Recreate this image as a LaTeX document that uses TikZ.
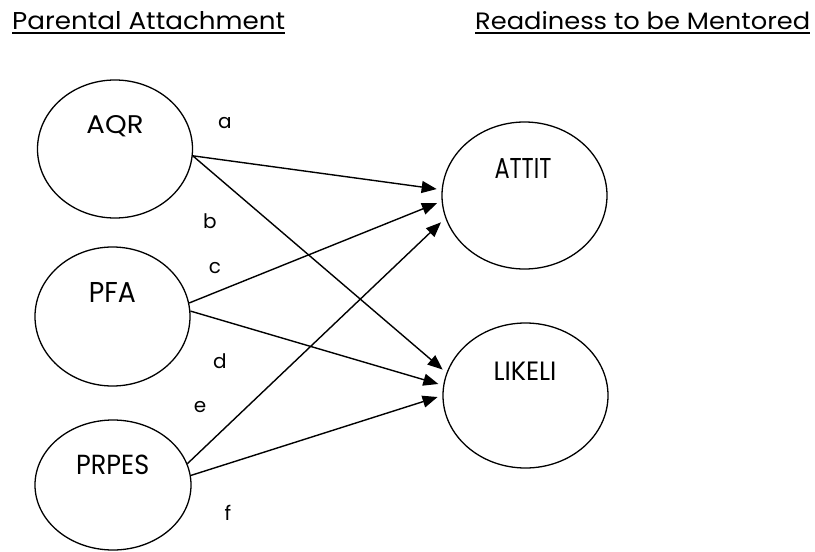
\documentclass[tikz,border=0pt]{standalone}
\usepackage{fontspec}
\setmainfont{Poppins}
\usetikzlibrary{shapes.geometric,arrows.meta}
\tikzset{
  ell/.style={draw, ellipse, line width=1.3pt, inner sep=0pt},
  lbl/.style={anchor=base, inner sep=0pt},
  coef/.style={anchor=base, inner sep=0pt, font=\fontsize{20}{22}\selectfont},
  path/.style={draw, line width=1.4pt, -{Triangle[length=15pt,width=12pt]}, shorten >=5pt},
  uline/.style={line width=1.4pt}
}
\begin{document}
\begin{tikzpicture}[x=1pt,y=-1pt]
\useasboundingbox (0,0) rectangle (815,552);
% titles
\node[lbl, anchor=base west] (t1) at (12,29) {\resizebox{273pt}{18pt}{Parental Attachment}};
\node[lbl, anchor=base west] (t2) at (475,29) {\resizebox{335pt}{18pt}{Readiness to be Mentored}};
\draw[uline] (t1.base west) ++(0,4) coordinate (u1a) -- (u1a -| t1.base east);
\draw[uline] (t2.base west) ++(0,4) coordinate (u2a) -- (u2a -| t2.base east);
% ellipses
\node[ell, minimum width=155pt, minimum height=138pt] (aqr) at (115,149) {};
\node[ell, minimum width=155pt, minimum height=139pt] (pfa) at (112.5,316.5) {};
\node[ell, minimum width=156pt, minimum height=130pt] (prpes) at (113,485) {};
\node[ell, minimum width=165pt, minimum height=147pt] (attit) at (524.5,195.5) {};
\node[ell, minimum width=165pt, minimum height=145pt] (likeli) at (525.5,395.5) {};
% labels
\node[lbl] (aqrt) at (115,133) {\resizebox{57pt}{18pt}{AQR}};
\node[lbl] (pfat) at (112.5,302) {\resizebox{47pt}{20pt}{PFA}};
\node[lbl] (prpest) at (112.7,474) {\resizebox{73pt}{19.5pt}{PRPES}};
\node[lbl] (attitt) at (523,178) {\resizebox{57pt}{20pt}{ATTIT}};
\node[lbl] (likelit) at (525,380) {\resizebox{63pt}{18.5pt}{LIKELI}};
% coefficient letters
\node[coef] (la) at (225,128) {a};
\node[coef] (lb) at (210,228) {b};
\node[coef] (lc) at (215,273) {c};
\node[coef] (ld) at (220,368) {d};
\node[coef] (le) at (200,412) {e};
\node[coef] (lf) at (228,520) {f};
% paths
\path[path] (aqr.-5) -- (attit.176);
\path[path] (aqr.-5) -- (likeli.164);
\path[path] (pfa.10) -- (attit.184);
\path[path] (pfa.4) -- (likeli.173);
\path[path, shorten >=6pt] (prpes.16) -- (attit.196);
\path[path] (prpes.7) -- (likeli.180);
\end{tikzpicture}
\end{document}
